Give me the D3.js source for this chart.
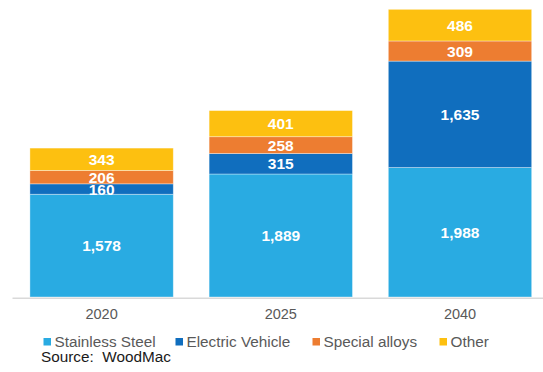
<!DOCTYPE html>
<html>
<head>
<meta charset="utf-8">
<script src="https://cdn.jsdelivr.net/npm/d3@7"></script>
<style>
  html, body { margin: 0; padding: 0; background: #fff; }
  svg { display: block; font-family: "Liberation Sans", Arial, sans-serif; }
</style>
</head>
<body>
<svg id="chart" width="543" height="372"></svg>
<script>
// Cobalt demand by end use (tonnes), stacked by year
const years = ["2020", "2025", "2040"];
const seriesNames = ["Stainless Steel", "Electric Vehicle", "Special alloys", "Other"];
const stainlessSteel = [1578, 1889, 1988];
const electricVehicle = [160, 315, 1635];
const specialAlloys = [206, 258, 309];
const other = [343, 401, 486];
const colors = ["#29abe2", "#106ebe", "#ed7d31", "#fdc010"];
const sourceText = "Source:  WoodMac";

const seriesValues = [stainlessSteel, electricVehicle, specialAlloys, other];
const rows = years.map((y, i) => {
  const r = { year: y };
  seriesNames.forEach((s, j) => { r[s] = seriesValues[j][i]; });
  return r;
});

const svg = d3.select("#chart");

const x = d3.scaleBand()
  .domain(years)
  .range([12, 549.6])
  .paddingInner(0.2)
  .paddingOuter(0.1);

const y = d3.scaleLinear()
  .domain([0, 4500])
  .range([297, 4]);

const stack = d3.stack().keys(seriesNames);
const layers = stack(rows);
const fmt = d3.format(",");

// stacked segments
const g = svg.append("g");
layers.forEach((layer, li) => {
  g.selectAll(null)
    .data(layer)
    .join("rect")
    .attr("x", d => x(d.data.year))
    .attr("width", x.bandwidth())
    .attr("y", d => y(d[1]))
    .attr("height", d => y(d[0]) - y(d[1]))
    .attr("fill", colors[li])
    .attr("stroke", "#ffffff")
    .attr("stroke-opacity", 0.45)
    .attr("stroke-width", 0.8);
});

// value labels centred in each segment
layers.forEach((layer, li) => {
  g.selectAll(null)
    .data(layer)
    .join("text")
    .attr("x", d => x(d.data.year) + x.bandwidth() / 2)
    .attr("y", d => (y(d[0]) + y(d[1])) / 2)
    .attr("dy", "0.36em")
    .attr("text-anchor", "middle")
    .attr("fill", "#ffffff")
    .attr("font-weight", "bold")
    .attr("font-size", "15.5px")
    .text(d => fmt(d[1] - d[0]));
});

// category axis
const xAxis = svg.append("g")
  .attr("transform", "translate(0,297.75)")
  .call(d3.axisBottom(x).tickSize(0).tickPadding(11));
xAxis.select(".domain").attr("stroke", "#d9d9d9").attr("stroke-width", 1.5);
xAxis.selectAll("text")
  .attr("fill", "#595959")
  .attr("font-size", "14.5px")
  .attr("font-family", "Liberation Sans, Arial, sans-serif");

// legend
const legendX = [43.5, 175.5, 312.5, 439.5];
const legend = svg.append("g");
seriesNames.forEach((s, i) => {
  legend.append("rect")
    .attr("x", legendX[i])
    .attr("y", 338)
    .attr("width", 7.5)
    .attr("height", 7.5)
    .attr("fill", colors[i]);
  legend.append("text")
    .attr("x", legendX[i] + 11)
    .attr("y", 341.8)
    .attr("dy", "0.36em")
    .attr("fill", "#595959")
    .attr("font-size", "15.3px")
    .text(s);
});

// source note
svg.append("text")
  .attr("x", 41)
  .attr("y", 356.5)
  .attr("dy", "0.36em")
  .attr("fill", "#1a1a1a")
  .attr("font-size", "15.3px")
  .attr("xml:space", "preserve")
  .style("white-space", "pre")
  .text(sourceText);
</script>
</body>
</html>
